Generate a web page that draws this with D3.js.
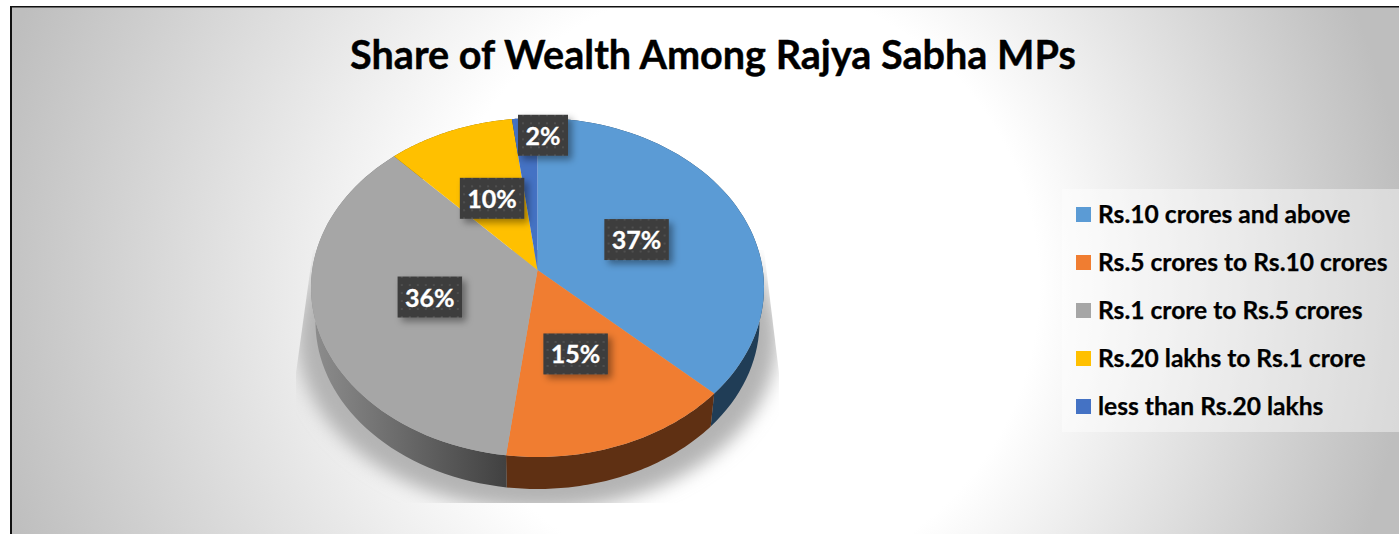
<!DOCTYPE html>
<html><head><meta charset="utf-8">
<script src="https://cdnjs.cloudflare.com/ajax/libs/d3/7.8.5/d3.min.js"></script>
<style>html,body{margin:0;padding:0;background:#fff;overflow:hidden}svg{display:block}</style>
</head><body><svg id="c" width="1399" height="534"></svg>
<script>
const chartTitle = "Share of Wealth Among Rajya Sabha MPs";
const categories = ["Rs.10 crores and above","Rs.5 crores to Rs.10 crores","Rs.1 crore to Rs.5 crores","Rs.20 lakhs to Rs.1 crore","less than Rs.20 lakhs"];
const shares = [37,15,36,10,2];
const colors = ["#5B9BD5","#F07D31","#A6A6A6","#FFC000","#4472C4"];
const sideColors = ["#203D56","#5F3013","url(#graySide)","#7f6000","#223962"];
const labelNudgeX = [-22,-10.5,23.4,9.1,13.5];
const labelNudgeY = [8.5,-16.6,-4.7,14.5,-40.2];

const svg = d3.select("#c"), defs = svg.append("defs");
const font = "Lato, Carlito, sans-serif";

// background
const bg = defs.append("radialGradient").attr("id","bg").attr("gradientUnits","userSpaceOnUse")
  .attr("cx",690).attr("cy",285).attr("r",720).attr("fx",770).attr("fy",285);
bg.append("stop").attr("offset",0.42).attr("stop-color","#fff");
bg.append("stop").attr("offset",1).attr("stop-color","#bebebe");
svg.append("rect").attr("x",10).attr("y",6).attr("width",1389).attr("height",528).attr("fill","#111");
svg.append("rect").attr("x",12).attr("y",7.5).attr("width",1387).attr("height",527).attr("fill","url(#bg)");

// title
svg.append("text").attr("x",713).attr("y",68.5).attr("text-anchor","middle")
  .attr("font-family",font).attr("font-weight",700).attr("font-size",39.6).attr("fill","#000")
  .attr("stroke","#000").attr("stroke-width",0.4).text(chartTitle);

// scales
const xTop = d3.scaleLinear([-1,1],[311,764]), yTop = d3.scaleLinear([-1,1],[118,457]);
const xBot = d3.scaleLinear([-1,1],[315.5,759.5]), yBot = d3.scaleLinear([-1,1],[155,489]);
const tilt = -0.103, sq = Math.sqrt(1-tilt*tilt);
function unit(theta,rho){
  const u = rho*Math.sin(theta), v = -rho*Math.cos(theta), w = 1+tilt*v;
  return [u*sq/w,(v+tilt)/w];
}
const arcs = d3.pie().sort(null)(shares);
const line = d3.line();
const samples = d => d3.range(0,61).map(i => d.startAngle+(d.endAngle-d.startAngle)*i/60);
const ptTop = (t,r=1) => { const p = unit(t,r); return [xTop(p[0]),yTop(p[1])]; };
const ptBot = t => { const p = unit(t,1); return [xBot(p[0]),yBot(p[1])]; };

// shadow
const sh = defs.append("filter").attr("id","blur").attr("x","-20%").attr("y","-20%").attr("width","140%").attr("height","140%");
sh.append("feGaussianBlur").attr("stdDeviation",9);
defs.append("clipPath").attr("id","shClip").append("path")
  .attr("d",line([[313,250],[764,250],[779,373],[779,503],[296,503],[296,373]])+"Z");
svg.append("g").attr("clip-path","url(#shClip)").append("ellipse")
  .attr("cx",537.5).attr("cy",338).attr("rx",240).attr("ry",172).attr("fill","#b4b4b4").attr("filter","url(#blur)");

// side
const gs = defs.append("linearGradient").attr("id","graySide").attr("gradientUnits","userSpaceOnUse")
  .attr("x1",315).attr("x2",506).attr("y1",0).attr("y2",0);
gs.append("stop").attr("offset",0).attr("stop-color","#8c8c8c");
gs.append("stop").attr("offset",1).attr("stop-color","#414141");
svg.append("g").selectAll("path").data(arcs).join("path")
  .attr("d",d => { const s = samples(d); return line(s.map(t=>ptTop(t)).concat(s.slice().reverse().map(ptBot)))+"Z"; })
  .attr("fill",(d,i)=>sideColors[i]);

// top face
svg.append("g").selectAll("path").data(arcs).join("path")
  .attr("d",d => line([ptTop(0,0)].concat(samples(d).map(t=>ptTop(t))))+"Z")
  .attr("fill",(d,i)=>colors[i]);

// labels
const pat = defs.append("pattern").attr("id","dots").attr("patternUnits","userSpaceOnUse").attr("width",8).attr("height",8);
pat.append("rect").attr("width",8).attr("height",8).attr("fill","#3d3d3d");
pat.append("rect").attr("x",3).attr("y",3).attr("width",2).attr("height",2).attr("fill","#4f4f4f");
const ds = defs.append("filter").attr("id","boxShadow").attr("x","-30%").attr("y","-30%").attr("width","170%").attr("height","170%");
ds.append("feDropShadow").attr("dx",4).attr("dy",4).attr("stdDeviation",3.5).attr("flood-color","#000").attr("flood-opacity",0.38);
const lab = svg.append("g").selectAll("g").data(arcs).join("g")
  .attr("transform",(d,i)=>{ const p = ptTop((d.startAngle+d.endAngle)/2,0.6); return `translate(${p[0]+labelNudgeX[i]},${p[1]+labelNudgeY[i]})`; });
lab.append("text").attr("text-anchor","middle").attr("y",9.5)
  .attr("font-family",font).attr("font-weight",700).attr("font-size",25).attr("fill","#fff")
  .attr("stroke","#fff").attr("stroke-width",0.3).text(d=>d.value+"%");
lab.each(function(){
  const g = d3.select(this), w = g.select("text").node().getComputedTextLength()+15;
  g.insert("rect","text").attr("x",-w/2).attr("y",-20.5).attr("width",w).attr("height",41)
    .attr("fill","url(#dots)").attr("filter","url(#boxShadow)");
});

// legend
svg.append("rect").attr("x",1062).attr("y",189).attr("width",337).attr("height",243).attr("fill","#fff").attr("opacity",0.42);
const rowY = d3.scalePoint().domain(categories).range([214.5,406.5]);
const leg = svg.append("g").selectAll("g").data(categories).join("g").attr("transform",d=>`translate(0,${rowY(d)})`);
leg.append("rect").attr("x",1076).attr("y",-7.5).attr("width",15).attr("height",15).attr("fill",(d,i)=>colors[i]);
leg.append("text").attr("x",1098).attr("y",8.5).attr("font-family",font).attr("font-weight",700)
  .attr("font-size",24.6).attr("fill","#000").attr("stroke","#000").attr("stroke-width",0.25).text(d=>d);
</script></body></html>
